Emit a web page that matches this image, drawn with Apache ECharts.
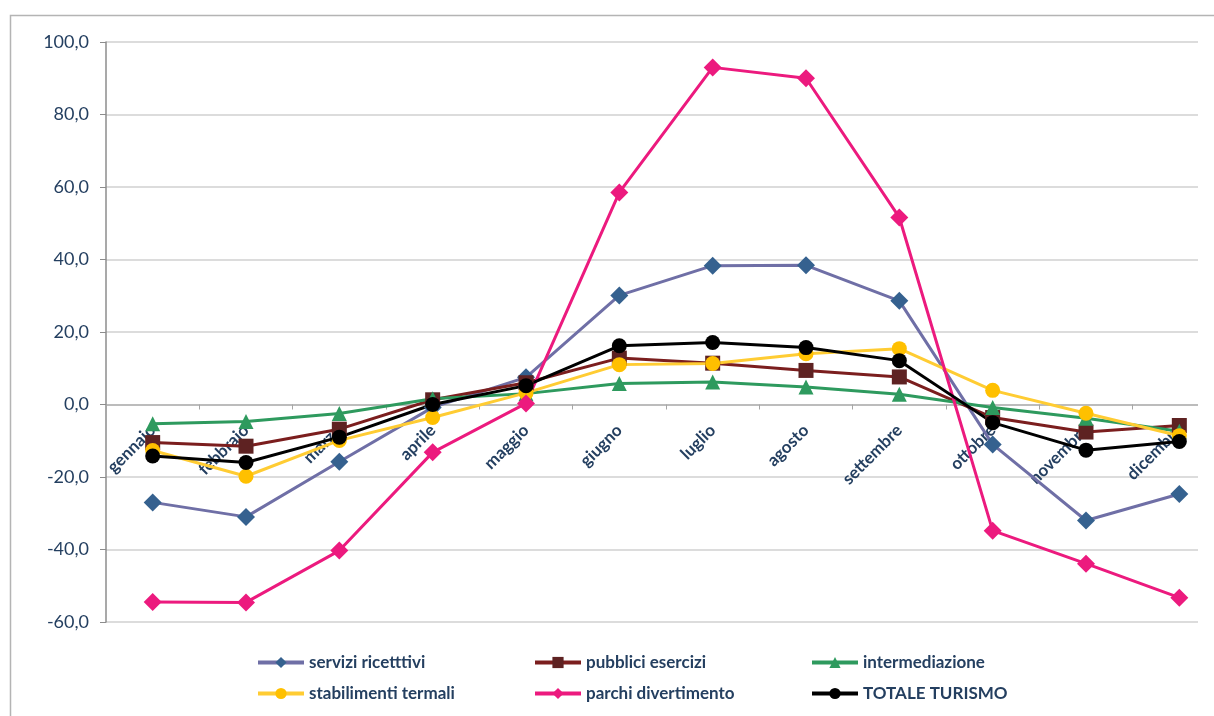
<!DOCTYPE html>
<html>
<head>
<meta charset="utf-8">
<script src="https://cdn.jsdelivr.net/npm/echarts@6/dist/echarts.min.js"></script>
<style>
html,body{margin:0;padding:0;background:#fff;}
#chart{width:1214px;height:716px;}
</style>
</head>
<body>
<div id="chart"></div>
<script>
const months = ['gennaio','febbraio','marzo','aprile','maggio','giugno','luglio','agosto','settembre','ottobre','novembre','dicembre'];
const yTicks = [-60, -40, -20, 0, 20, 40, 60, 80, 100];

const serviziRicettivi   = [-27.0, -31.0, -15.8, -0.8, 7.5, 30.1, 38.3, 38.4, 28.6, -11.0, -32.0, -24.7];
const pubbliciEsercizi   = [-10.5, -11.5, -6.8, 1.3, 6.0, 12.8, 11.4, 9.4, 7.6, -3.6, -7.6, -5.8];
const intermediazione    = [-5.3, -4.7, -2.5, 1.6, 3.0, 5.8, 6.2, 4.8, 2.8, -0.8, -3.8, -7.4];
const stabilimentiTermali= [-12.7, -19.8, -9.9, -3.6, 3.2, 11.0, 11.3, 14.0, 15.4, 3.9, -2.4, -8.6];
const parchiDivertimento = [-54.5, -54.6, -40.3, -13.2, 0.3, 58.5, 93.0, 90.0, 51.6, -34.8, -43.9, -53.3];
const totaleTurismo      = [-14.2, -16.0, -9.0, 0.0, 5.2, 16.2, 17.1, 15.7, 12.1, -5.0, -12.6, -10.2];

const seriesNames = ['servizi ricetttivi','pubblici esercizi','intermediazione','stabilimenti termali','parchi divertimento','TOTALE TURISMO'];

const font = 'Lato, "Liberation Sans", sans-serif';
const navy = '#243F60';

const yMin = yTicks[0], yMax = yTicks[yTicks.length - 1];
const plotTop = 42, plotHeight = 580;
// distance from the bottom of the plot up to the zero line (axis crosses at 0)
const zeroOffset = -plotHeight * (0 - yMin) / (yMax - yMin);

function mkSeries(name, data, lineColor, markColor, symbol, size) {
  return {
    name: name, type: 'line', xAxisIndex: 1, yAxisIndex: 1,
    data: data, symbol: symbol, symbolSize: size,
    lineStyle: {color: lineColor, width: 3},
    itemStyle: {color: markColor, borderWidth: 0},
    emphasis: {disabled: true},
    animation: false
  };
}

const chart = echarts.init(document.getElementById('chart'), null, {renderer: 'canvas'});
const splitColors = yTicks.map(v => v === 0 ? '#A6A6A6' : '#D0D0D0');

const legendBase = {
  orient: 'vertical', itemWidth: 46, itemHeight: 14, itemGap: 14,
  textStyle: {fontFamily: font, fontSize: 17, fontWeight: 'bold', color: navy},
  lineStyle: {width: 4},
  selectedMode: false
};

chart.setOption({
  backgroundColor: '#ffffff',
  animation: false,
  graphic: [{
    type: 'rect', left: 8, top: 13,
    shape: {width: 1400, height: 900},
    style: {fill: 'none', stroke: '#B4B4B4', lineWidth: 1.5},
    silent: true, z: -10
  }],
  grid: [
    {left: 106, top: plotTop, width: 1092, height: plotHeight, containLabel: false, outerBoundsMode: 'none'},
    {left: 106, top: plotTop, width: 1120, height: plotHeight, containLabel: false, outerBoundsMode: 'none'}
  ],
  xAxis: [
    {gridIndex: 0, type: 'value', min: 0, max: 1, show: false},
    {gridIndex: 1, type: 'category', data: months, boundaryGap: true, position: 'bottom',
     offset: zeroOffset,
     axisLine: {show: false, onZero: false},
     axisTick: {show: true, length: 5, lineStyle: {color: '#A6A6A6'}},
     axisLabel: {rotate: 45, margin: 23, fontFamily: font, fontSize: 17, fontWeight: 'bold', color: navy, interval: 0}
    }
  ],
  yAxis: [
    {gridIndex: 0, type: 'value', min: yMin, max: yMax, interval: 20,
     axisLine: {show: true, lineStyle: {color: '#8C8C8C', width: 1.5}},
     axisTick: {show: true, length: 6, lineStyle: {color: '#8C8C8C'}},
     axisLabel: {margin: 17, fontFamily: font, fontSize: 18, color: navy,
       formatter: v => v.toFixed(1).replace('.', ',')},
     splitLine: {show: true, lineStyle: {color: splitColors, width: 1.5}}
    },
    {gridIndex: 1, type: 'value', min: yMin, max: yMax, interval: 20,
     axisLine: {show: false}, axisTick: {show: false}, axisLabel: {show: false},
     splitLine: {show: false}}
  ],
  legend: [
    Object.assign({}, legendBase, {left: 251, top: 649, data: [seriesNames[0], seriesNames[3]]}),
    Object.assign({}, legendBase, {left: 528, top: 649, data: [seriesNames[1], seriesNames[4]]}),
    Object.assign({}, legendBase, {left: 805, top: 649, data: [seriesNames[2], seriesNames[5]]})
  ],
  series: [
    mkSeries(seriesNames[0], serviziRicettivi, '#6F6FA6', '#35618F', 'diamond', 18),
    mkSeries(seriesNames[1], pubbliciEsercizi, '#7B1E1E', '#5E2222', 'rect', 15),
    mkSeries(seriesNames[2], intermediazione, '#2E9A5E', '#2E9A5E', 'triangle', 15),
    mkSeries(seriesNames[3], stabilimentiTermali, '#FFCC33', '#FFC000', 'circle', 15),
    mkSeries(seriesNames[4], parchiDivertimento, '#EC1A7E', '#EC1A7E', 'diamond', 18),
    mkSeries(seriesNames[5], totaleTurismo, '#000000', '#000000', 'circle', 15)
  ]
});
</script>
</body>
</html>
